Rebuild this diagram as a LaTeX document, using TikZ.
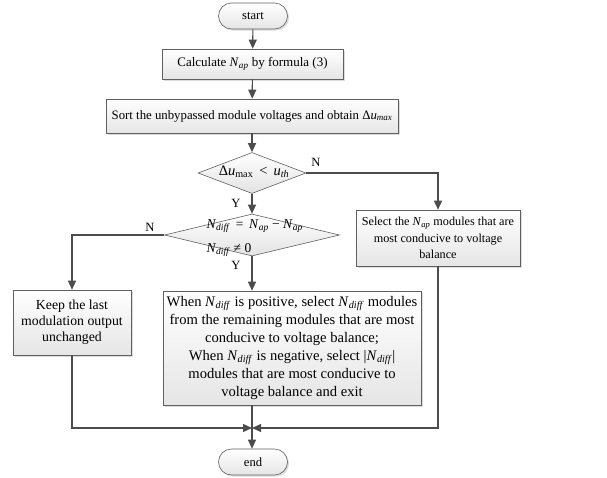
\documentclass[tikz,border=0pt]{standalone}
\usepackage{fontspec}
\setmainfont{Liberation Serif}
\usetikzlibrary{arrows.meta,shapes.geometric,shapes.misc,shadows}
\tikzset{
  box/.style={draw=gray!75!black, line width=0.6pt, top color=white, bottom color=gray!20,
    drop shadow={shadow xshift=1.6pt, shadow yshift=-1.6pt, fill=gray!55}, align=center, inner sep=2pt},
  term/.style={box, rounded rectangle, minimum width=73pt, minimum height=26pt},
  dec/.style={diamond, draw=gray!75!black, line width=0.6pt, top color=white, bottom color=gray!22, inner sep=0pt},
  link/.style={line width=1.1pt, draw=gray!60!black},
  flow/.style={link, -{Triangle[length=9pt,width=8pt]}},
  yn/.style={inner sep=1pt},
}
\newcommand{\vsub}[2]{\textit{#1}\textsubscript{\textit{#2}}}

\begin{document}
\begin{tikzpicture}[x=1pt,y=-1pt,font=\fontsize{12.6}{16}\selectfont]
  \useasboundingbox (0,0) rectangle (607,477);
  \node[term] (start) at (253,16) {start};
  \node[box, minimum width=181pt, minimum height=30pt, font=\fontsize{13}{16}\selectfont] (calc) at (252.5,64) {Calculate \vsub{N}{ap} by formula (3)};
  \node[box, minimum width=292pt, minimum height=34pt, font=\fontsize{12.8}{16}\selectfont] (sort) at (252,116) {Sort the unbypassed module voltages and obtain Δ\vsub{u}{max}};
  \node[dec, minimum width=108pt, minimum height=41pt] (dec1) at (252,173) {};
  \node[font=\fontsize{14.5}{16}\selectfont] (dec1txt) at (254,172) {Δ\textit{u}\textsubscript{max} \,<\, \vsub{u}{th}};
  \node[box, minimum width=164pt, minimum height=56pt, font=\fontsize{12.2}{16.5}\selectfont] (sel) at (438,238)
    {Select the \vsub{N}{ap} modules that are\\most conducive to voltage\\balance};
  \node[dec, minimum width=175pt, minimum height=42pt] (dec2) at (252,235) {};
  \node[anchor=west, font=\fontsize{13.5}{16}\selectfont] (eq1) at (203,226) {\vsub{N}{diff} \,=\, \vsub{N}{ap} − \vsub{N}{ap}};
  \node[anchor=west, font=\fontsize{13.5}{16}\selectfont] (eq2) at (203,250) {\vsub{N}{diff} ≠ 0};
  \node[box, minimum width=118pt, minimum height=65pt, font=\fontsize{13.8}{16}\selectfont] (keep) at (72,322.5)
    {Keep the last\\modulation output\\unchanged};
  \node[box, minimum width=258pt, minimum height=114pt, font=\fontsize{14.6}{18}\selectfont] (when) at (292,348)
    {When \vsub{N}{diff} is positive, select \vsub{N}{diff} modules\\from the remaining modules that are most\\conducive to voltage balance;\\When \vsub{N}{diff} is negative, select |\vsub{N}{diff}|\\modules that are most conducive to\\voltage balance and exit};
  \node[term] (end) at (253,462) {end};
  \coordinate (join) at (252,428);

  \draw[flow] (start) -- (calc);
  \draw[flow] (calc) -- (sort);
  \draw[flow] (sort.south -| dec1.north) -- (dec1.north);
  \draw[flow] (dec1.east) -| (sel.north);
  \draw[flow] (dec1.south) -- (dec2.north);
  \draw[flow] (dec2.west) -| (keep.north);
  \draw[flow] (dec2.south) -- (dec2.south |- when.north);
  \draw[link] (dec2.south |- when.south) -- (join);
  \draw[flow] (keep.south) |- (join);
  \draw[flow] (sel.south) |- (join);
  \draw[flow] (join) -- (end.north -| join);

  \node[yn] (n1) at (316,162) {N};
  \node[yn] (y1) at (236,203) {Y};
  \node[yn] (n2) at (150,227) {N};
  \node[yn] (y2) at (236,265) {Y};
\end{tikzpicture}
\end{document}
